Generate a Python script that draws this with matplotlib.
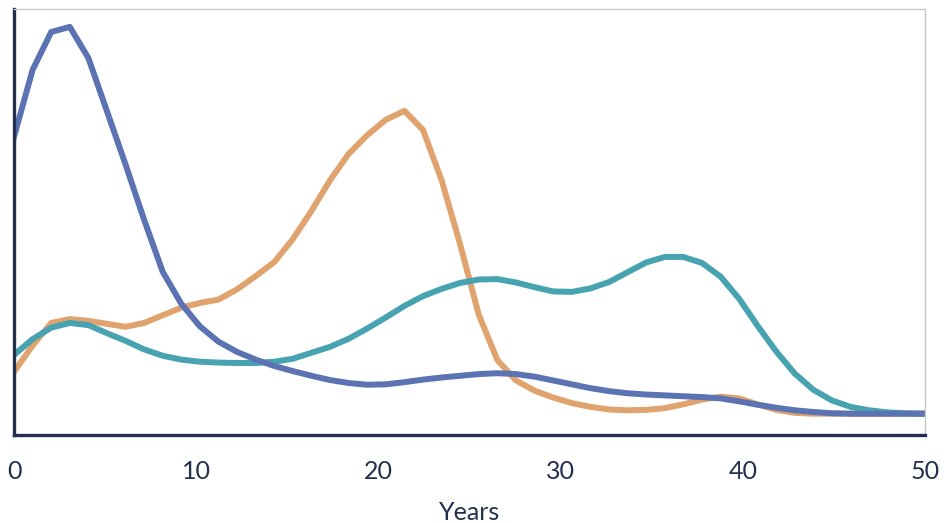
import matplotlib.pyplot as plt
import numpy as np

# 50 samples spread over 0..50 years (values in arbitrary units)
years = np.linspace(0, 50, 50)

blue = [70.0, 85.7, 94.6, 95.8, 88.5, 76.0, 63.5, 50.5, 38.3, 30.8,
        25.5, 21.9, 19.5, 17.7, 16.2, 15.0, 13.9, 12.9, 12.2, 11.8,
        11.9, 12.4, 13.0, 13.5, 13.9, 14.3, 14.5, 14.3, 13.7, 12.8,
        11.9, 11.0, 10.3, 9.8, 9.5, 9.3, 9.1, 8.9, 8.6, 7.9,
        7.1, 6.4, 5.8, 5.4, 5.1, 5.0, 5.0, 5.0, 5.0, 5.0]

orange = [14.8, 21.0, 26.3, 27.2, 26.8, 26.1, 25.4, 26.3, 28.1, 29.9,
          31.0, 31.8, 34.2, 37.3, 40.6, 46.0, 52.6, 59.8, 66.0, 70.4,
          74.0, 76.1, 71.6, 59.8, 44.7, 28.2, 17.6, 12.8, 10.4, 8.8,
          7.5, 6.6, 6.0, 5.8, 5.9, 6.3, 7.2, 8.3, 9.0, 8.6,
          7.2, 5.9, 5.2, 5.0, 5.0, 5.0, 5.0, 5.0, 5.0, 5.0]

teal = [18.8, 22.5, 25.2, 26.3, 25.8, 23.9, 22.1, 20.1, 18.6, 17.7,
        17.2, 17.0, 16.9, 16.9, 17.2, 17.9, 19.3, 20.7, 22.6, 25.0,
        27.6, 30.3, 32.6, 34.3, 35.7, 36.5, 36.6, 35.8, 34.7, 33.7,
        33.6, 34.4, 35.9, 38.2, 40.5, 41.8, 41.8, 40.4, 37.2, 32.0,
        25.6, 19.6, 14.4, 10.6, 8.1, 6.6, 5.8, 5.3, 5.1, 5.0]

xticks = [0, 10, 20, 30, 40, 50]

navy = '#232f4e'

fig = plt.figure(figsize=(9.44, 5.23), dpi=100)
ax = fig.add_axes([14/944, 88/523, 911/944, 426/523])

ax.plot(years, orange, color='#e0a36d', lw=4.3)
ax.plot(years, teal, color='#47a3b0', lw=4.3)
ax.plot(years, blue, color='#5b73b3', lw=4.3)

ax.set_xlim(0, 50)
ax.set_ylim(0, 100)
ax.set_yticks([])
ax.set_xticks(xticks)
ax.tick_params(axis='x', length=0, pad=18, labelsize=18, labelcolor=navy)
for lab in ax.get_xticklabels():
    lab.set_family('Lato')

ax.set_xlabel('Years', fontsize=18, color=navy, family='Lato', labelpad=13)

ax.spines['left'].set_color(navy)
ax.spines['left'].set_linewidth(2.4)
ax.spines['bottom'].set_color(navy)
ax.spines['bottom'].set_linewidth(2.4)
ax.spines['top'].set_color('#c8c8c8')
ax.spines['top'].set_linewidth(1)
ax.spines['right'].set_color('#c8c8c8')
ax.spines['right'].set_linewidth(1)

fig.savefig('out.png', dpi=100)
